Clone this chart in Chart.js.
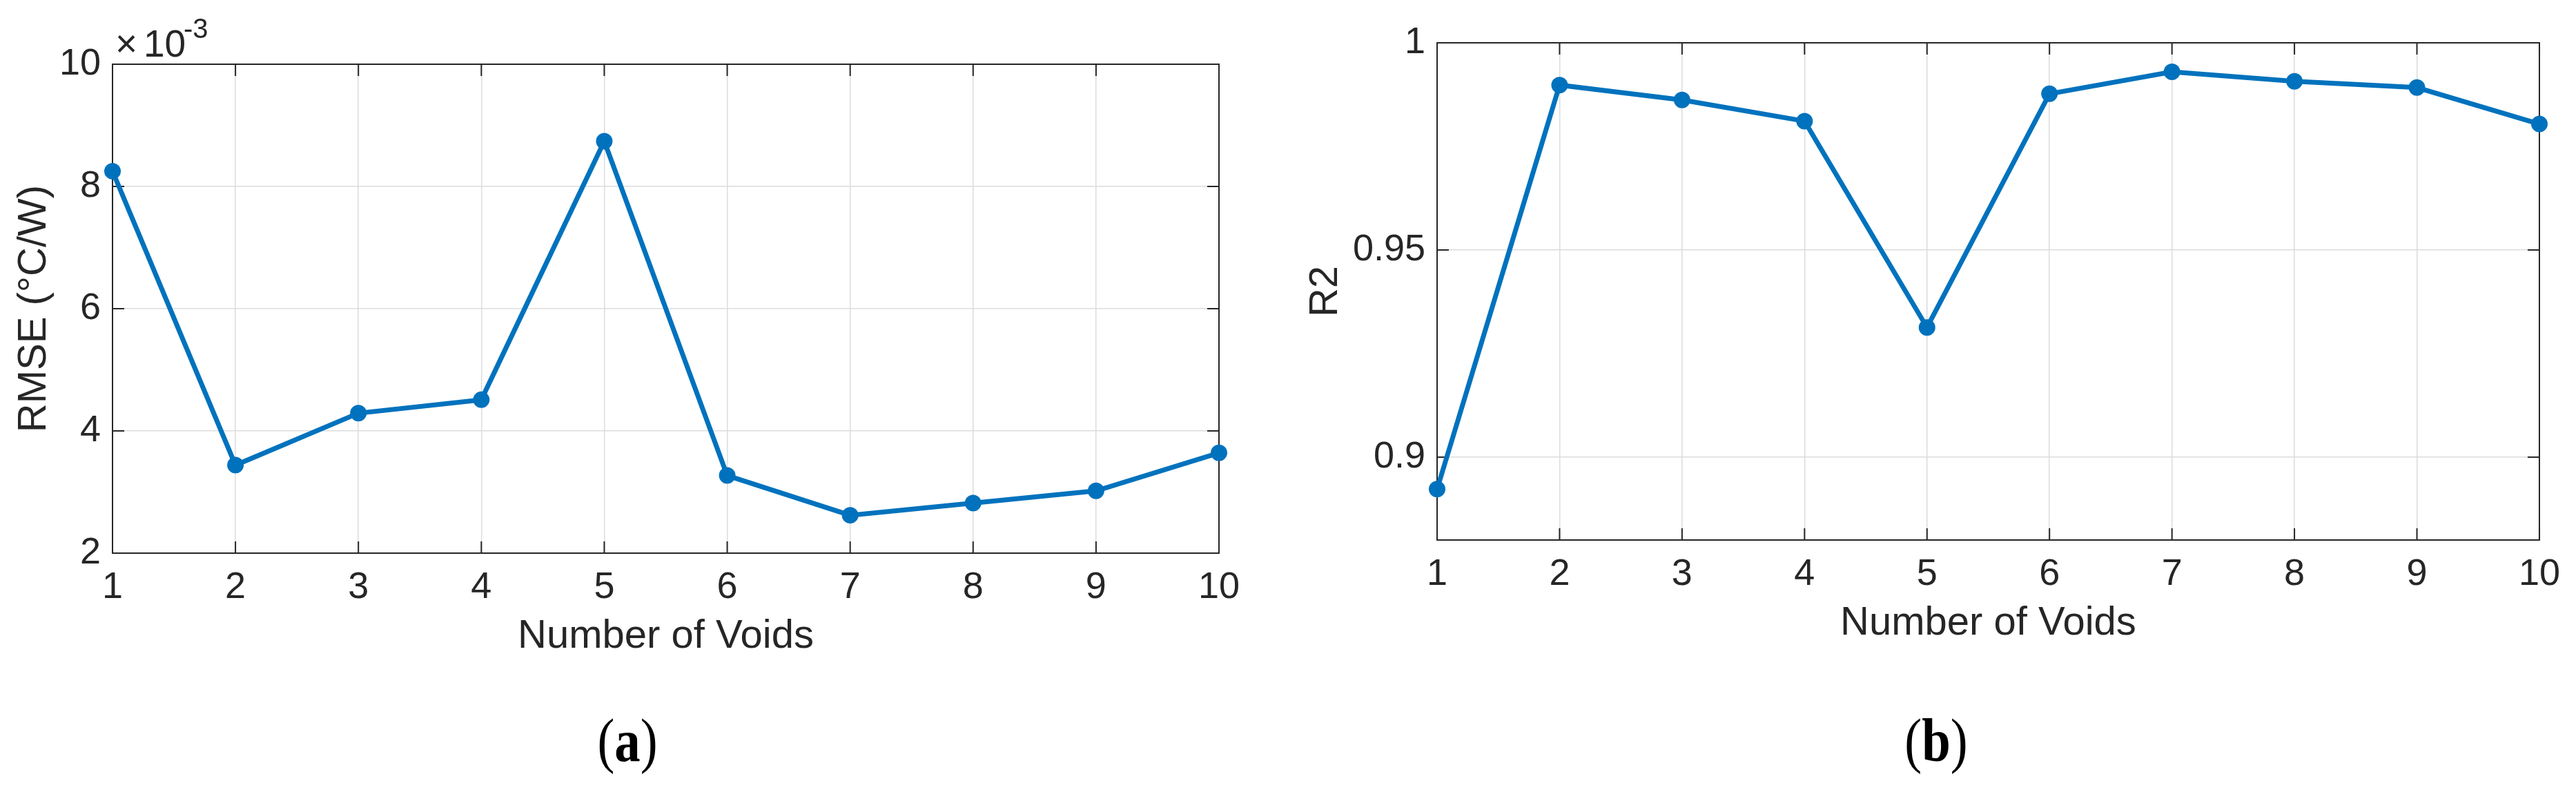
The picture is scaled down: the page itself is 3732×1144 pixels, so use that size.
<!DOCTYPE html>
<html>
<head>
<meta charset="utf-8">
<script src="https://cdn.jsdelivr.net/npm/chart.js@4/dist/chart.umd.min.js"></script>
<style>
  body { margin: 0; background: #fff; width: 3732px; height: 1144px; position: relative; overflow: hidden; }
  .panel { position: absolute; top: 0; width: 1866px; height: 1000px; }
  .caption {
    position: absolute; top: 1029px; width: 300px; text-align: center;
    font-family: "Liberation Serif", "Times New Roman", serif; font-size: 88px; line-height: 1;
    color: #000; transform: scaleX(0.85);
  }
</style>
</head>
<body>
<div class="panel" style="left:0"><canvas id="rmseChart" width="1866" height="1000"></canvas></div>
<div class="panel" style="left:1866px"><canvas id="r2Chart" width="1866" height="1000"></canvas></div>
<div class="caption" style="left:759px">(<b>a</b>)</div>
<div class="caption" style="left:2655px">(<b>b</b>)</div>
<script>
// data
const voids = [1, 2, 3, 4, 5, 6, 7, 8, 9, 10];
const rmse = [0.00825, 0.00344, 0.00429, 0.00451, 0.00874, 0.00327, 0.00262, 0.00282, 0.00302, 0.00364];
const r2 = [0.8923, 0.9898, 0.9862, 0.9811, 0.9313, 0.9877, 0.9930, 0.9907, 0.9892, 0.9804];

// tick values
const xTicks = [1, 2, 3, 4, 5, 6, 7, 8, 9, 10];
const rmseTicks = [0.002, 0.004, 0.006, 0.008, 0.010];
const r2Ticks = [0.9, 0.95, 1];

const lineBlue = '#0072BD';
const ink = '#262626';
const gridGray = '#dcdcdc';
const sans = '"Liberation Sans", Arial, Helvetica, sans-serif';

Chart.defaults.font.family = sans;
Chart.defaults.color = ink;

// MATLAB-like box with inward ticks on all four sides
const framePlugin = {
    id: 'frame',
    beforeDatasetsDraw(chart) {
        const { ctx, chartArea: a, scales: { x, y } } = chart;
        const tl = 17;
        ctx.save();
        ctx.strokeStyle = ink;
        ctx.lineWidth = 2;
        ctx.strokeRect(a.left, a.top, a.right - a.left, a.bottom - a.top);
        ctx.beginPath();
        x.ticks.forEach(t => {
            const px = x.getPixelForValue(t.value);
            ctx.moveTo(px, a.bottom); ctx.lineTo(px, a.bottom - tl);
            ctx.moveTo(px, a.top); ctx.lineTo(px, a.top + tl);
        });
        y.ticks.forEach(t => {
            const py = y.getPixelForValue(t.value);
            ctx.moveTo(a.left, py); ctx.lineTo(a.left + tl, py);
            ctx.moveTo(a.right, py); ctx.lineTo(a.right - tl, py);
        });
        ctx.stroke();
        ctx.restore();
    }
};

// the "x10^-3" exponent above the left axis
const exponentPlugin = {
    id: 'exponent',
    afterDraw(chart) {
        const { ctx, chartArea: a } = chart;
        ctx.save();
        ctx.fillStyle = ink;
        ctx.textBaseline = 'alphabetic';
        ctx.textAlign = 'left';
        ctx.font = '55px ' + sans;
        ctx.fillText('\u00d7', a.left + 4, a.top - 11);
        ctx.fillText('10', a.left + 45, a.top - 11);
        ctx.font = '40px ' + sans;
        ctx.fillText('-3', a.left + 103, a.top - 38);
        ctx.restore();
    }
};

function makeChart(id, values, yTicks, yMin, yMax, yTitle, tickFmt, pad, yWidth, extraPlugins) {
    const ctx = document.getElementById(id).getContext('2d');
    return new Chart(ctx, {
        type: 'line',
        data: {
            datasets: [{
                data: voids.map((v, i) => ({ x: v, y: values[i] })),
                borderColor: lineBlue,
                backgroundColor: lineBlue,
                borderWidth: 7,
                pointRadius: 11,
                pointBorderWidth: 2,
                pointBackgroundColor: lineBlue,
                pointBorderColor: lineBlue,
                pointHoverRadius: 11,
                tension: 0,
                clip: false
            }]
        },
        options: {
            responsive: false,
            devicePixelRatio: 1,
            animation: false,
            events: [],
            layout: { padding: pad },
            plugins: { legend: { display: false }, tooltip: { enabled: false } },
            scales: {
                x: {
                    type: 'linear',
                    min: 1,
                    max: 10,
                    afterBuildTicks: s => { s.ticks = xTicks.map(v => ({ value: v })); },
                    afterFit: s => { s.height = 150; },
                    grid: { color: gridGray, lineWidth: 1.5, drawTicks: false },
                    border: { display: false },
                    ticks: {
                        font: { size: 54, lineHeight: 1 },
                        color: ink,
                        padding: 23,
                        maxRotation: 0,
                        autoSkip: false,
                        callback: v => String(v)
                    },
                    title: {
                        display: true,
                        text: 'Number of Voids',
                        font: { size: 58, lineHeight: 1 },
                        color: ink,
                        padding: 0
                    }
                },
                y: {
                    type: 'linear',
                    min: yMin,
                    max: yMax,
                    afterBuildTicks: s => { s.ticks = yTicks.map(v => ({ value: v })); },
                    afterFit: s => { s.width = yWidth; },
                    grid: { color: gridGray, lineWidth: 1.5, drawTicks: false },
                    border: { display: false },
                    ticks: {
                        font: { size: 54, lineHeight: 1 },
                        color: ink,
                        padding: 17,
                        autoSkip: false,
                        callback: tickFmt
                    },
                    title: {
                        display: true,
                        text: yTitle,
                        font: { size: 58, lineHeight: 1 },
                        color: ink,
                        padding: 0
                    }
                }
            }
        },
        plugins: [framePlugin].concat(extraPlugins)
    });
}

const rmseChart = makeChart('rmseChart', rmse, rmseTicks, 0.002, 0.010, 'RMSE (°C/W)',
    v => String(Math.round(v * 1000)),
    { left: 21, right: 100, top: 93, bottom: 49 }, 142, [exponentPlugin]);

const r2Chart = makeChart('r2Chart', r2, r2Ticks, 0.88, 1, 'R2',
    v => String(v),
    { left: 26, right: 48, top: 62, bottom: 68 }, 190, []);
</script>
</body>
</html>
